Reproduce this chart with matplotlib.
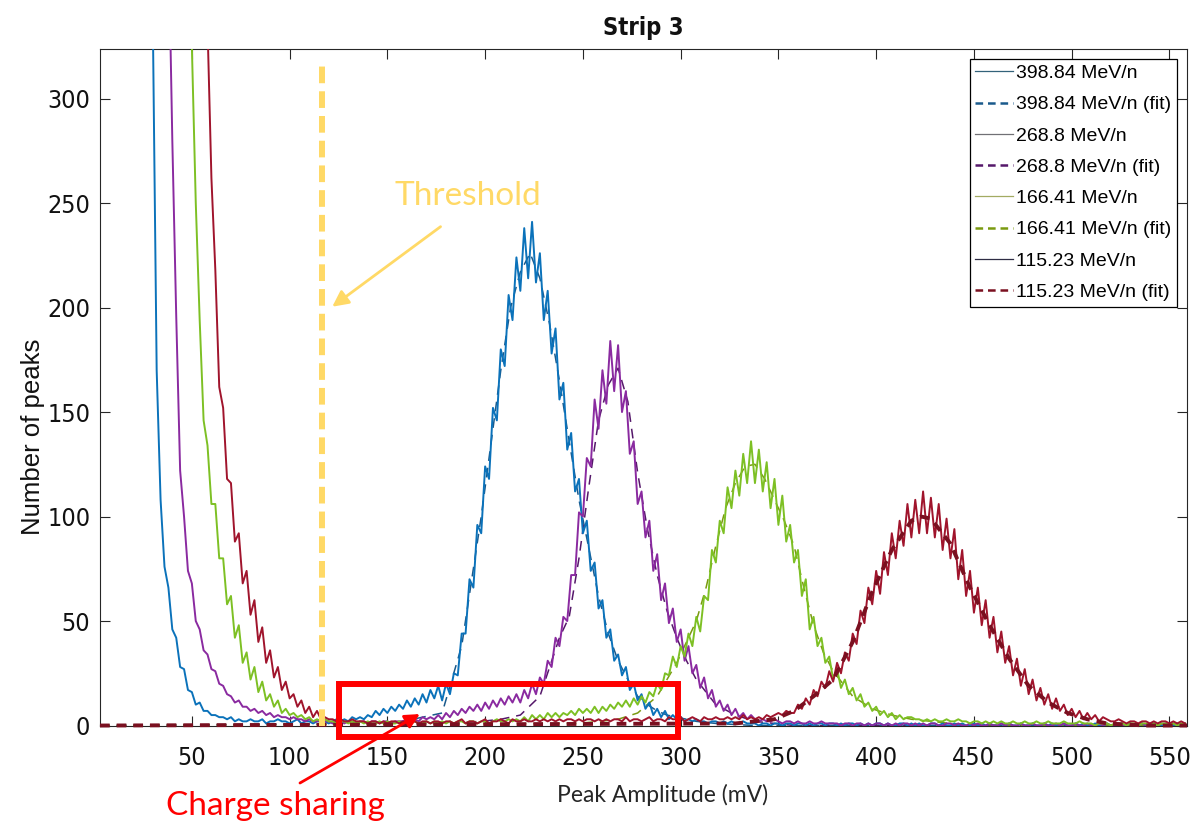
import numpy as np
import matplotlib
matplotlib.use("Agg")
import matplotlib.pyplot as plt
from matplotlib import font_manager
from matplotlib.font_manager import FontProperties
from matplotlib.lines import Line2D
from matplotlib.patches import Rectangle

plt.rcParams['lines.scale_dashes'] = False

# ---------------- data ----------------
amplitude_mv = np.arange(18, 560, 2)   # histogram bin centres (mV)

counts_398 = [
    900, 800, 700, 600, 500, 420, 340, 170, 108, 76,
    66, 46, 42, 28, 27, 17, 16, 10, 11, 7,
    7, 5, 5, 4, 4, 3, 4, 2, 3, 2,
    2, 3, 2, 2, 3, 1, 2, 2, 3, 2,
    2, 1, 2, 3, 1, 2, 2, 1, 2, 2,
    2, 1, 2, 3, 2, 3, 2, 4, 3, 4,
    3, 5, 4, 7, 5, 8, 6, 9, 7, 10,
    8, 12, 9, 13, 10, 15, 11, 17, 13, 19,
    12, 20, 15, 25, 24, 44, 44, 70, 66, 96,
    92, 124, 118, 152, 146, 180, 172, 206, 194, 224,
    208, 238, 214, 241, 212, 226, 194, 208, 178, 190,
    156, 164, 132, 140, 112, 118, 92, 98, 74, 78,
    56, 60, 42, 46, 31, 34, 24, 28, 17, 20,
    12, 15, 8, 11, 5, 8, 4, 7, 3, 5,
    3, 4, 2, 3, 2, 3, 2, 2, 1, 2,
    2, 1, 2, 1, 2, 1, 1, 2, 1, 1,
    1, 0, 1, 1, 0, 1, 1, 0, 1, 1,
    0, 1, 1, 0, 1, 0, 1, 1, 0, 1,
    1, 0, 1, 0, 1, 1, 0, 1, 0, 1,
    0, 1, 1, 0, 1, 0, 0, 1, 1, 0,
    1, 0, 1, 0, 0, 1, 1, 0, 1, 0,
    0, 1, 0, 1, 0, 0, 1, 0, 1, 0,
    1, 0, 0, 1, 0, 1, 0, 0, 1, 0,
    0, 1, 0, 0, 1, 0, 1, 0, 0, 1,
    0, 0, 1, 0, 1, 0, 0, 1, 0, 0,
    1, 0, 0, 1, 0, 0, 1, 0, 0, 1,
    0, 0, 1, 0, 0, 1, 0, 0, 1, 0,
    0,
]

counts_268 = [
    900, 900, 900, 900, 900, 900, 850, 750, 650, 550,
    380, 280, 196, 122, 100, 74, 68, 50, 46, 36,
    34, 27, 26, 20, 19, 15, 14, 11, 12, 9,
    9, 7, 8, 6, 7, 5, 6, 4, 5, 4,
    4, 3, 4, 3, 3, 2, 3, 2, 2, 3,
    2, 2, 1, 2, 2, 1, 2, 2, 1, 2,
    2, 1, 2, 2, 1, 2, 2, 1, 2, 2,
    2, 3, 2, 3, 2, 4, 3, 4, 3, 5,
    3, 6, 4, 7, 5, 8, 6, 9, 7, 10,
    7, 11, 8, 12, 9, 13, 10, 14, 11, 15,
    11, 17, 13, 20, 15, 23, 20, 31, 28, 42,
    38, 52, 50, 72, 72, 102, 100, 128, 124, 156,
    142, 170, 154, 184, 160, 182, 150, 160, 130, 136,
    106, 112, 90, 98, 74, 82, 60, 68, 49, 56,
    40, 46, 31, 38, 25, 29, 18, 23, 13, 17,
    9, 12, 7, 10, 5, 8, 4, 6, 3, 5,
    3, 2, 3, 2, 2, 3, 2, 1, 2, 2,
    1, 2, 1, 1, 2, 1, 1, 2, 1, 1,
    1, 1, 0, 1, 1, 0, 1, 1, 0, 1,
    0, 1, 1, 0, 1, 0, 1, 0, 1, 1,
    0, 1, 0, 1, 0, 1, 1, 0, 0, 1,
    1, 0, 1, 0, 0, 1, 0, 1, 0, 0,
    1, 0, 0, 1, 0, 1, 0, 0, 1, 0,
    0, 1, 0, 0, 1, 0, 0, 1, 0, 1,
    0, 0, 1, 0, 0, 1, 0, 0, 1, 0,
    1, 0, 0, 1, 0, 0, 1, 0, 0, 1,
    0, 1, 0, 0, 1, 0, 0, 1, 0, 0,
    1,
]

counts_166 = [
    900, 900, 900, 900, 900, 900, 900, 900, 900, 900,
    900, 850, 780, 700, 560, 420, 325, 250, 194, 146,
    134, 106, 106, 80, 80, 58, 62, 42, 48, 30,
    35, 22, 28, 16, 21, 12, 15, 9, 12, 6,
    8, 5, 6, 4, 5, 3, 4, 2, 3, 2,
    3, 2, 2, 1, 2, 2, 1, 2, 1, 2,
    1, 2, 1, 1, 2, 1, 2, 1, 1, 2,
    1, 2, 1, 2, 1, 1, 2, 1, 2, 1,
    2, 1, 2, 1, 2, 2, 1, 2, 2, 1,
    2, 2, 1, 2, 3, 2, 2, 3, 2, 3,
    2, 4, 2, 5, 3, 5, 3, 6, 4, 6,
    4, 6, 5, 7, 5, 8, 6, 8, 6, 9,
    6, 9, 7, 10, 8, 11, 9, 12, 9, 13,
    10, 14, 11, 16, 14, 20, 17, 25, 24, 33,
    28, 38, 33, 44, 38, 52, 45, 62, 60, 84,
    78, 98, 92, 114, 104, 122, 110, 130, 116, 136,
    116, 132, 112, 126, 104, 118, 96, 110, 88, 96,
    78, 84, 62, 70, 46, 52, 38, 42, 30, 33,
    22, 27, 18, 22, 15, 18, 12, 15, 9, 11,
    7, 9, 5, 7, 4, 6, 3, 5, 3, 4,
    4, 3, 3, 2, 3, 2, 3, 2, 2, 3,
    2, 2, 3, 2, 2, 1, 2, 2, 1, 2,
    1, 2, 1, 2, 1, 1, 2, 1, 1, 2,
    1, 1, 2, 1, 1, 2, 1, 1, 1, 2,
    1, 1, 1, 2, 1, 1, 1, 0, 1, 1,
    1, 0, 1, 1, 1, 0, 1, 1, 0, 1,
    1, 0, 1, 0, 1, 1, 0, 1, 0, 1,
    1,
]

counts_115 = [
    900, 900, 900, 900, 900, 900, 900, 900, 900, 900,
    900, 900, 900, 900, 900, 850, 750, 650, 550, 430,
    335, 262, 218, 162, 152, 118, 116, 88, 92, 68,
    74, 53, 60, 40, 47, 30, 36, 23, 28, 17,
    21, 13, 15, 9, 12, 6, 9, 4, 7, 3,
    4, 3, 3, 2, 3, 2, 2, 3, 2, 2,
    2, 1, 2, 2, 1, 2, 1, 2, 2, 1,
    2, 1, 2, 2, 1, 2, 2, 1, 2, 2,
    1, 2, 2, 1, 2, 3, 1, 2, 2, 1,
    2, 3, 1, 2, 2, 3, 2, 1, 3, 2,
    2, 3, 2, 2, 3, 2, 3, 2, 3, 2,
    3, 2, 3, 3, 2, 3, 2, 3, 3, 2,
    3, 2, 3, 2, 3, 3, 2, 4, 2, 3,
    3, 2, 3, 4, 2, 3, 3, 2, 4, 3,
    3, 4, 2, 3, 4, 3, 2, 4, 3, 3,
    4, 3, 3, 4, 3, 4, 3, 5, 3, 4,
    3, 4, 3, 5, 4, 5, 6, 5, 7, 6,
    6, 10, 8, 13, 10, 17, 14, 21, 18, 26,
    21, 30, 25, 35, 31, 44, 39, 55, 49, 66,
    58, 74, 63, 83, 72, 92, 80, 98, 86, 106,
    90, 108, 92, 112, 92, 109, 90, 106, 84, 99,
    80, 94, 70, 84, 62, 74, 54, 66, 48, 60,
    42, 52, 35, 45, 30, 38, 24, 32, 19, 27,
    15, 22, 12, 18, 10, 15, 8, 13, 7, 10,
    5, 8, 4, 7, 3, 6, 3, 5, 2, 4,
    3, 2, 2, 3, 2, 1, 2, 2, 1, 2,
    2, 1, 2, 1, 2, 2, 1, 2, 1, 2,
    1,
]

# fitted curves
fit_398_x = [3, 148, 158, 168, 178, 188, 198, 203, 208, 213, 218, 223, 228, 233, 238,
             243, 248, 253, 258, 263, 268, 273, 278, 283, 288, 293, 298, 308, 318, 338, 559]
fit_398_y = [0, 1, 2, 4, 6, 38, 100, 135, 170, 200, 217, 226, 214, 192, 165,
             136, 108, 85, 62, 44, 31, 22, 14, 10, 7, 5, 4, 2, 1, 0, 0]
fit_268_x = [3, 178, 198, 208, 218, 228, 238, 243, 248, 253, 258, 263, 268, 273, 278,
             283, 288, 293, 298, 303, 308, 318, 328, 338, 358, 559]
fit_268_y = [0, 1, 2, 3, 5, 14, 42, 52, 80, 114, 146, 163, 171, 155, 121,
             94, 72, 55, 42, 31, 22, 10, 5, 2, 0, 0]
fit_166_x = [3, 248, 268, 278, 288, 298, 303, 308, 313, 318, 323, 328, 333, 338, 343,
             348, 353, 358, 363, 368, 373, 378, 388, 398, 408, 418, 438, 468, 559]
fit_166_y = [0, 1, 3, 6, 14, 30, 40, 50, 66, 86, 104, 116, 124, 125, 118,
             108, 98, 86, 66, 48, 35, 26, 14, 8, 5, 3, 1, 0, 0]
fit_115_x = [3, 328, 348, 358, 368, 378, 388, 398, 408, 418, 423, 428, 438, 448, 458,
             468, 478, 488, 498, 508, 518, 538, 559]
fit_115_y = [0, 1, 3, 7, 14, 22, 40, 64, 84, 98, 100, 99, 87, 66, 48,
             32, 19, 11, 6, 3, 1, 0, 0]

energies = ['398.84', '268.8', '166.41', '115.23']
x_ticks = [50, 100, 150, 200, 250, 300, 350, 400, 450, 500, 550]
y_ticks = [0, 50, 100, 150, 200, 250, 300]
threshold_mv = 116.5

for arr in (counts_398, counts_268, counts_166, counts_115):
    assert len(arr) == len(amplitude_mv)


# ---------------- fonts ----------------
def find_condensed(bold=False):
    best = None
    for f in font_manager.fontManager.ttflist:
        n = f.name.lower()
        st = str(f.stretch).lower()
        is_cond = ('narrow' in n) or ('condensed' in n) or st in ('condensed', 'semi-condensed')
        if not is_cond or f.style != 'normal':
            continue
        if 'mono' in n or ('serif' in n and 'sans' not in n):
            continue
        try:
            w = int(f.weight)
        except (TypeError, ValueError):
            w = 700 if 'bold' in str(f.weight).lower() else 400
        if bold and w < 600:
            continue
        if not bold and (w < 350 or w > 500):
            continue
        score = 0 if 'liberation' in n else (1 if 'arimo' in n or 'nimbus' in n else (2 if 'sans' in n else 3))
        if best is None or score < best[0]:
            best = (score, f.fname)
    return best[1] if best else None


reg_path = find_condensed(False)
bold_path = find_condensed(True)
if reg_path:
    tick_fp = FontProperties(fname=reg_path, size=18)
else:
    tick_fp = FontProperties(family='Liberation Sans', size=16.5)
if bold_path:
    title_fp = FontProperties(fname=bold_path, size=17)
else:
    title_fp = FontProperties(family='Liberation Sans', weight='bold', size=16)

# ---------------- figure ----------------
fig = plt.figure(figsize=(11.93, 8.24), dpi=100)
ax = fig.add_axes([0.0838, 0.1195, 0.9112, 0.8210])

data_colors = ['#0b72ba', '#8a2aa0', '#7dc024', '#a0142c']
fit_colors = ['#1a5a8c', '#55186a', '#7a9a10', '#7a1020']
series = [counts_398, counts_268, counts_166, counts_115]
fits = [(fit_398_x, fit_398_y), (fit_268_x, fit_268_y),
        (fit_166_x, fit_166_y), (fit_115_x, fit_115_y)]

for i in range(4):
    ax.plot(amplitude_mv, series[i], color=data_colors[i], lw=1.4, zorder=3 + i)
    fx, fy = fits[i]
    ax.plot(fx, fy, color=fit_colors[i], lw=1.1 if i < 3 else 2.8,
            dashes=(7, 5), zorder=2 if i < 3 else 8, clip_on=False)

ax.set_xlim(3, 559)
ax.set_ylim(0, 323.7)
ax.set_xticks(x_ticks)
ax.set_yticks(y_ticks)
ax.tick_params(direction='in', top=True, right=True, length=7, width=0.8,
               color='#262626', labelcolor='#111111')
ax.tick_params(axis='x', pad=15)
ax.tick_params(axis='y', pad=7)
for lab in ax.get_xticklabels() + ax.get_yticklabels():
    lab.set_fontproperties(tick_fp)
for sp in ax.spines.values():
    sp.set_linewidth(0.8)
    sp.set_color('#262626')

ax.set_title('Strip 3', fontproperties=title_fp, pad=10, color='#111111')

# legend with proxy handles
legend_solid = ['#33627a', '#707075', '#a3ab62', '#2e2c44']
handles, labels = [], []
for i, e in enumerate(energies):
    handles.append(Line2D([], [], color=legend_solid[i], lw=0.9))
    labels.append(f'{e} MeV/n')
    handles.append(Line2D([], [], color=fit_colors[i], lw=1.8, dashes=(5.5, 3.5)))
    labels.append(f'{e} MeV/n (fit)')
leg = ax.legend(handles, labels, loc='upper right',
                prop={'family': 'Liberation Sans', 'size': 14},
                fancybox=False, framealpha=1, edgecolor='black',
                borderpad=0.3, labelspacing=0.7, handlelength=1.95,
                handletextpad=0.15, borderaxespad=0.5)
leg.get_frame().set_linewidth(0.9)
leg.set_zorder(20)

# annotations
thr_color = '#FFD966'
ax.plot([threshold_mv, threshold_mv], [0, 317], color=thr_color, lw=4.3,
        dashes=(12, 5.8), zorder=12, solid_capstyle='butt')
ax.text(191, 249, 'Threshold', color=thr_color, fontsize=24, family='Lato',
        ha='center', va='baseline', zorder=13)
ax.annotate('', xy=(121.8, 200.4), xytext=(177.2, 238.7),
            arrowprops=dict(arrowstyle='-|>', color=thr_color, lw=2.0,
                            mutation_scale=24, shrinkA=0, shrinkB=0), zorder=13)

box = Rectangle((125.2, -5.5), 298.5 - 125.2, 19.9 + 5.5, fill=False,
                edgecolor='#FF0000', lw=4.3, clip_on=False, zorder=14,
                joinstyle='miter')
ax.add_patch(box)
ax.annotate('', xy=(166.6, 5.5), xytext=(105.3, -27.5),
            arrowprops=dict(arrowstyle='-|>', color='#FF0000', lw=2.0,
                            mutation_scale=22, shrinkA=0, shrinkB=0),
            annotation_clip=False, zorder=14)

fig.text(275 / 1193, (824 - 815) / 824, 'Charge sharing', color='#FF0000',
         fontsize=24, family='Lato', ha='center', va='baseline')
fig.text(662.5 / 1193, (824 - 802) / 824, 'Peak Amplitude (mV)', color='#262626',
         fontsize=16.5, family='Lato', ha='center', va='baseline')
fig.text(33 / 1193, 1 - 437 / 824, 'Number of peaks', color='#111111',
         fontsize=18.5, family='Liberation Sans', rotation=90,
         ha='center', va='center')

fig.savefig('out.png', dpi=100)
